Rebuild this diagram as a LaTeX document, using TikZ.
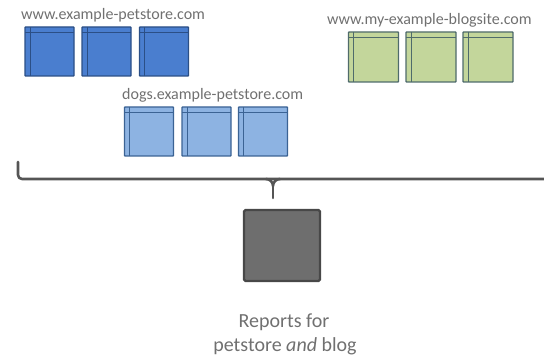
\documentclass[tikz,border=0pt]{standalone}
\usepackage{fontspec}
\setmainfont{Carlito}
\definecolor{bluefill}{HTML}{4A7ECF}
\definecolor{blueedge}{HTML}{2B4F86}
\definecolor{lightfill}{HTML}{8DB3E2}
\definecolor{lightedge}{HTML}{3B6394}
\definecolor{greenfill}{HTML}{C3D69B}
\definecolor{greenedge}{HTML}{4F6B6B}
\definecolor{reportfill}{HTML}{6E6E6E}
\definecolor{reportedge}{HTML}{484848}
\definecolor{labelgray}{HTML}{707070}
\definecolor{bracegray}{HTML}{555555}
\tikzset{
  window/.style 2 args={rectangle, draw=#1, fill=#2, line width=1.3pt,
    rounded corners=0.6pt, inner sep=0pt, minimum width=49pt, minimum height=49pt,
    path picture={
      \draw[#1, line width=0.8pt]
        ([yshift=-5pt]path picture bounding box.north west) --
        ([yshift=-5pt]path picture bounding box.north east);
      \draw[#1, line width=0.8pt]
        ([xshift=5pt]path picture bounding box.north west) --
        ([xshift=5pt]path picture bounding box.south west);
    }},
  sitelabel/.style={text=labelgray, font=\fontsize{16}{19}\selectfont, inner sep=0pt, anchor=base west},
  caption/.style={text=labelgray, font=\fontsize{20}{24}\selectfont, inner sep=0pt, anchor=base},
  brace/.style={draw=bracegray, line width=2.6pt, line cap=round, line join=round},
}
\begin{document}
\begin{tikzpicture}[x=1pt, y=-1pt]
  \useasboundingbox (0,0) rectangle (544,358);
  \clip (0,0) rectangle (544,358);

  % site labels
  \node[sitelabel] (lpet)  at (21,20)  {www.example-petstore.com};
  \node[sitelabel] (lblog) at (327,25) {www.my-example-blogsite.com};
  \node[sitelabel] (ldogs) at (122,100) {dogs.example-petstore.com};

  % pages of www.example-petstore.com
  \node[window={blueedge}{bluefill}] (p1) at (49.5,51.5) {};
  \node[window={blueedge}{bluefill}] (p2) at (106.5,51.5) {};
  \node[window={blueedge}{bluefill}] (p3) at (164,51.5) {};

  % pages of dogs.example-petstore.com
  \node[window={lightedge}{lightfill}] (d1) at (149,131.5) {};
  \node[window={lightedge}{lightfill}] (d2) at (206.5,131.5) {};
  \node[window={lightedge}{lightfill}] (d3) at (263,131.5) {};

  % pages of www.my-example-blogsite.com
  \node[window={greenedge}{greenfill}, minimum size=50pt] (b1) at (373.5,57) {};
  \node[window={greenedge}{greenfill}, minimum size=50pt] (b2) at (431,57) {};
  \node[window={greenedge}{greenfill}, minimum size=50pt] (b3) at (488,57) {};

  % brace gathering all sites
  \coordinate (braceL) at (18,162);
  \coordinate (braceR) at (560,179);
  \coordinate (braceM) at (273,186);
  \coordinate (braceTip) at (273,198);
  \draw[brace, rounded corners=4pt] (braceL) |- (braceR);
  \draw[brace] (266,179) to[out=0, in=90] (braceM) to[out=90, in=180] (280,179);
  \draw[brace] (braceM) -- (braceTip);

  % report
  \node[rectangle, draw=reportedge, fill=reportfill, line width=2.2pt, rounded corners=1.5pt,
        minimum width=76pt, minimum height=71pt, inner sep=0pt] (report) at (282,245.5) {};
  \node[caption] (cap1) at (284,328) {Reports for};
  \node[caption] (cap2) at (285,352) {petstore \textit{and} blog};
\end{tikzpicture}
\end{document}
